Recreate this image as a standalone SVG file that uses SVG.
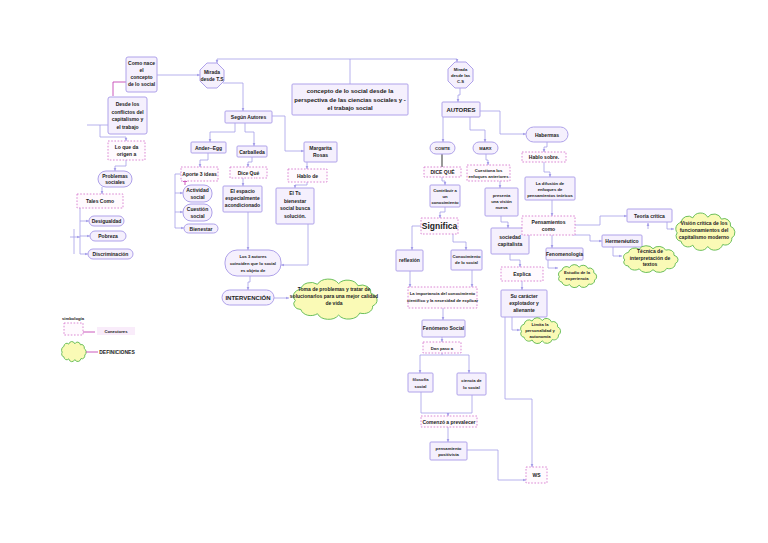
<svg xmlns="http://www.w3.org/2000/svg" width="768" height="543" viewBox="0 0 768 543">
<style>
.n{fill:#f5f0fd;stroke:#afa2ea;stroke-width:1}
.d{fill:#fffafe;stroke:#d77ccf;stroke-width:0.9;stroke-dasharray:1.6,1.6}
.cl{fill:#fafab6;stroke:#6cc05c}
.c{fill:none;stroke:#a59ee8;stroke-width:0.8;marker-end:url(#ar)}
.p{fill:none;stroke:#c545b5;stroke-width:0.9}
text{font-family:"Liberation Sans",Arial,sans-serif;font-size:5px;font-weight:bold;fill:#222;text-anchor:middle}
.s{font-size:4.2px}
.m{font-size:6px}
.l{font-size:8.5px}
</style>
<defs>
<marker id="ar" viewBox="0 0 6 6" refX="5.5" refY="3" markerWidth="4" markerHeight="4" orient="auto"><path d="M0,0.5 L6,3 L0,5.5 Z" fill="#a59ee8"/></marker>
<symbol id="cloud" viewBox="0 0 100 60" preserveAspectRatio="none" overflow="visible">
<path vector-effect="non-scaling-stroke" d="M8,32 A10,10 0 0 1 14,16 A11,11 0 0 1 32,9 A13,13 0 0 1 55,8 A12,12 0 0 1 76,11 A10,10 0 0 1 90,22 A10,10 0 0 1 92,40 A10,10 0 0 1 78,50 A13,13 0 0 1 55,53 A13,13 0 0 1 32,51 A11,11 0 0 1 14,45 A8,8 0 0 1 8,32 Z"/>
</symbol>
</defs>
<rect width="768" height="543" fill="#fff"/>
<g id="connectors">
<path class="c" d="M157,75 H200"/>
<path class="p" d="M126,82 H113 V96"/>
<path class="c" d="M108,125 H87 M100,125 V137 H126 V141"/>
<path class="c" d="M126,160 V166 H115 V171"/>
<path class="c" d="M102,187 V194"/>
<path class="c" d="M80,208 V254 H88"/>
<path class="c" d="M80,221 H89"/>
<path class="c" d="M80,236 H90"/>
<path class="c" d="M74,229 V254 M70,237 H80"/>
<path class="c" d="M350,84 V59 H217 V63"/>
<path class="c" d="M350,59 H457 V62"/>
<path class="c" d="M223,83 H243 V111"/>
<path class="c" d="M235,123 V132 H210 V142"/>
<path class="c" d="M245,123 V132 H254 V146"/>
<path class="c" d="M272,116 H285 V151 H304"/>
<path class="c" d="M208,153 V160 H200 V167"/>
<path class="c" d="M181,174 H175 V228 H184"/>
<path class="c" d="M175,193 H183"/>
<path class="c" d="M175,212 H183"/>
<path class="p" d="M185,185 V181 M183,181.5 H187"/>
<path class="c" d="M252,157 V162 H248 V167"/>
<path class="c" d="M243,178 V186"/>
<path class="c" d="M248,212 V250"/>
<path class="c" d="M307,162 V169"/>
<path class="c" d="M307,182 V185 H295 V188"/>
<path class="c" d="M308,224 V265 H281"/>
<path class="c" d="M250,276 V282 H248 V290"/>
<path class="c" d="M274,298 H289"/>
<path class="c" d="M460,88 V95 H458 V102"/>
<path class="c" d="M443,117 V142"/>
<path class="c" d="M470,117 V130 H485 V142"/>
<path class="c" d="M480,111 H500 V134 H526"/>
<path fill="none" stroke="#555" stroke-width="1.2" d="M442,154 V167"/>
<path class="c" d="M486,154 V160 H488 V165"/>
<path class="c" d="M547,142 V147 H544 V152"/>
<path class="c" d="M442,177 V181 H445 V185"/>
<path class="c" d="M500,181 V188"/>
<path class="c" d="M544,162 V172 H550 V177"/>
<path class="c" d="M445,207 V212 H440 V218"/>
<path class="c" d="M421,226 H412 V250"/>
<path class="c" d="M453,234 V242 H466 V250"/>
<path class="c" d="M410,271 V287"/>
<path class="c" d="M472,270 V287"/>
<path class="c" d="M443,308 V320"/>
<path class="c" d="M442,337 V342"/>
<path class="c" d="M442,353 V355 M420,355 H469 M469,355 V373"/>
<path class="c" d="M420,355 V373"/>
<path class="c" d="M421,392 V413 H472 V395 M448,413 V416"/>
<path class="c" d="M448,427 V442"/>
<path class="c" d="M467,450 H498 V480 H526"/>
<path class="c" d="M501,216 V222 H508 V228"/>
<path class="c" d="M510,254 V260 H520 V267"/>
<path class="c" d="M522,281 V290"/>
<path class="c" d="M512,317 V330 H520"/>
<path class="c" d="M505,317 V399 H532 V467"/>
<path class="c" d="M552,200 V216"/>
<path class="c" d="M575,225 H600 V216 H627"/>
<path class="c" d="M648,229 V223"/>
<path class="c" d="M667,222 V229 H674"/>
<path class="c" d="M552,235 V248"/>
<path class="c" d="M573,235 H590 V241 H602"/>
<path class="c" d="M548,260 V268 H558"/>
<path class="c" d="M613,247 V256 H622"/>
</g>
<g id="como"><rect class="n" x="126" y="57" width="31" height="35" rx="2"/><text x="141.5" y="65">Como nace</text><text x="141.5" y="72">el</text><text x="141.5" y="79">concepto</text><text x="141.5" y="86">de lo social</text></g>
<g id="mirada_ts"><polygon class="n" points="207,63 217,63 224,70 224,81 217,88 207,88 200,81 200,70"/><text x="212" y="74">Mirada</text><text x="212" y="81">desde T.S</text></g>
<g id="desde"><rect class="n" x="108" y="97" width="39" height="37" rx="2"/><text x="127.5" y="106">Desde los</text><text x="127.5" y="113.5">conflictos del</text><text x="127.5" y="121">capitalismo y</text><text x="127.5" y="128.5">el trabajo</text></g>
<g id="loque"><rect class="d" x="108" y="141" width="37" height="19"/><text x="126.5" y="149">Lo que da</text><text x="126.5" y="156">origen a</text></g>
<g id="problemas"><rect class="n" x="98" y="171" width="34" height="16" rx="8"/><text x="115" y="177.5">Problemas</text><text x="115" y="184">sociales</text></g>
<g id="tales"><rect class="d" x="77" y="194" width="46" height="14"/><text x="100" y="203">Tales Como</text></g>
<g id="desigualdad"><rect class="n" x="89" y="216" width="35" height="10" rx="5"/><text x="106.5" y="223">Desigualdad</text></g>
<g id="pobreza"><rect class="n" x="90" y="231" width="36" height="10" rx="5"/><text x="108" y="238">Pobreza</text></g>
<g id="discriminacion"><rect class="n" x="88" y="249" width="45" height="10" rx="5"/><text x="110.5" y="256">Discriminación</text></g>
<g id="titulo"><rect class="n" x="292" y="84" width="116" height="31" rx="1"/><text class="m" x="350" y="93">concepto de lo social desde la</text><text class="m" x="350" y="101.5">perspectiva de las ciencias sociales y -</text><text class="m" x="350" y="110">el trabajo social</text></g>
<g id="segun"><rect class="n" x="225" y="111" width="47" height="12" rx="1"/><text x="248.5" y="119">Según Autores</text></g>
<g id="ander"><rect class="n" x="191" y="142" width="35" height="11" rx="1"/><text x="208.5" y="149.5">Ander--Egg</text></g>
<g id="carballeda"><rect class="n" x="237" y="146" width="30" height="11" rx="1"/><text x="252" y="153.5">Carballeda</text></g>
<g id="margarita"><rect class="n" x="304" y="142" width="33" height="20" rx="1"/><text x="320.5" y="150">Margarita</text><text x="320.5" y="157">Rosas</text></g>
<g id="aporte"><rect class="d" x="181" y="167" width="37" height="14"/><text x="199.5" y="176">Aporte 3 ideas</text></g>
<g id="actividad"><rect class="n" x="183" y="185" width="29" height="17" rx="8"/><text x="197.5" y="192">Actividad</text><text x="197.5" y="199">social</text></g>
<g id="cuestion"><rect class="n" x="183" y="204" width="29" height="17" rx="8"/><text x="197.5" y="211">Cuestión</text><text x="197.5" y="218">social</text></g>
<g id="bienestar"><rect class="n" x="184" y="224" width="34" height="9" rx="4.5"/><text x="201" y="230.5">Bienestar</text></g>
<g id="dicequ1"><rect class="d" x="230" y="167" width="37" height="11"/><text x="248.5" y="174.5">Dice Qué</text></g>
<g id="espacio"><rect class="n" x="223" y="186" width="39" height="26" rx="1"/><text x="242.5" y="193">El espacio</text><text x="242.5" y="200">especialmente</text><text x="242.5" y="207">acondicionado</text></g>
<g id="hablode"><rect class="d" x="288" y="169" width="39" height="13"/><text x="307.5" y="177.5">Hablo de</text></g>
<g id="elts"><rect class="n" x="276" y="188" width="38" height="36" rx="1"/><text x="295" y="195">El Ts</text><text x="295" y="202.5">bienestar</text><text x="295" y="210">social busca</text><text x="295" y="217.5">solución.</text></g>
<g id="los3"><rect class="n" x="225" y="250" width="56" height="26" rx="12"/><text class="s" x="253" y="257.5">Los 3 autores</text><text class="s" x="253" y="264.5">coinciden que lo social</text><text class="s" x="253" y="271.5">es objeto de</text></g>
<g id="intervencion"><rect class="n" x="222" y="290" width="52" height="15" rx="7.5"/><text class="m" x="248" y="299.8">INTERVENCIÓN</text></g>
<g id="cloud_toma"><use href="#cloud" class="cl" x="288" y="278" width="92" height="42"/><text x="334" y="291">Toma de problemas y tratar de</text><text x="334" y="298">solucionarlos para una mejor calidad</text><text x="334" y="305">de vida</text></g>
<g id="mirada_cs"><polygon class="n" points="455,62 466,62 473,69 473,81 466,88 455,88 448,81 448,69"/><text class="s" x="460.5" y="71">Mirada</text><text class="s" x="460.5" y="77">desde las</text><text class="s" x="460.5" y="83">C.S</text></g>
<g id="autores"><rect class="n" x="442" y="102" width="38" height="15" rx="1"/><text class="m" x="461" y="111.8">AUTORES</text></g>
<g id="comte"><rect class="n" x="430" y="142" width="25" height="12" rx="6"/><text class="s" x="442.5" y="149.6">COMTE</text></g>
<g id="marx"><rect class="n" x="473" y="142" width="25" height="12" rx="6"/><text class="s" x="485.5" y="149.6">MARX</text></g>
<g id="habermas"><rect class="n" x="526" y="127" width="42" height="15" rx="7.5"/><text x="547" y="136.5">Habermas</text></g>
<g id="dicequ2"><rect class="d" x="424" y="167" width="37" height="10"/><text x="442.5" y="174">DICE QUÉ</text></g>
<g id="cuestiona"><rect class="d" x="467" y="165" width="43" height="16"/><text class="s" x="488.5" y="172">Cuestiona los</text><text class="s" x="488.5" y="178">enfoques anteriores</text></g>
<g id="hablosobre"><rect class="d" x="522" y="152" width="44" height="10"/><text x="544" y="159">Hablo sobre.</text></g>
<g id="difusion"><rect class="n" x="525" y="177" width="50" height="23" rx="1"/><text class="s" x="550" y="184.5">La difusión de</text><text class="s" x="550" y="190.5">enfoques de</text><text class="s" x="550" y="196.5">pensamientos teóricos</text></g>
<g id="contribuir"><rect class="n" x="430" y="185" width="30" height="22" rx="1"/><text class="s" x="445" y="191.5">Contribuir a</text><text class="s" x="445" y="197.5">un</text><text class="s" x="445" y="203.5">conocimiento</text></g>
<g id="presenta"><rect class="n" x="485" y="188" width="33" height="28" rx="1"/><text class="s" x="501.5" y="197">presenta</text><text class="s" x="501.5" y="203">una visión</text><text class="s" x="501.5" y="209">nueva</text></g>
<g id="significa"><rect class="d" x="421" y="218" width="37" height="16"/><text class="l" x="439.5" y="229">Significa</text></g>
<g id="reflexion"><rect class="n" x="396" y="250" width="27" height="21" rx="1"/><text x="409.5" y="262">reflexión</text></g>
<g id="conocimiento"><rect class="n" x="451" y="250" width="31" height="20" rx="1"/><text class="s" x="466.5" y="258">Conocimiento</text><text class="s" x="466.5" y="264">de lo social</text></g>
<g id="importancia"><rect class="d" x="408" y="287" width="69" height="21"/><text class="s" x="442.5" y="295">La importancia del conocimiento</text><text class="s" x="442.5" y="301.5">científico y la necesidad de explicar</text></g>
<g id="fenomeno"><rect class="n" x="422" y="320" width="43" height="17" rx="1"/><text x="443.5" y="330">Fenómeno Social</text></g>
<g id="danpaso"><rect class="d" x="423" y="342" width="38" height="11"/><text class="s" x="442" y="349.5">Dan paso a</text></g>
<g id="filosofia"><rect class="n" x="408" y="373" width="25" height="19" rx="1"/><text class="s" x="420.5" y="381">filosofía</text><text class="s" x="420.5" y="388">social</text></g>
<g id="ciencia"><rect class="n" x="457" y="373" width="29" height="22" rx="1"/><text class="s" x="471.5" y="382">ciencia de</text><text class="s" x="471.5" y="389">lo social</text></g>
<g id="comenzo"><rect class="d" x="421" y="416" width="56" height="11"/><text x="449" y="423.5">Comenzó a prevalecer</text></g>
<g id="pensamiento"><rect class="n" x="430" y="442" width="37" height="18" rx="1"/><text class="s" x="448.5" y="449.5">pensamiento</text><text class="s" x="448.5" y="456">positivista</text></g>
<g id="ws"><rect class="d" x="526" y="467" width="21" height="16"/><text x="536.5" y="477">WS</text></g>
<g id="sociedad"><rect class="n" x="491" y="228" width="38" height="26" rx="1"/><text x="510" y="238.5">sociedad</text><text x="510" y="246">capitalista</text></g>
<g id="explica"><rect class="d" x="501" y="267" width="42" height="14"/><text x="522" y="276">Explica</text></g>
<g id="sucaracter"><rect class="n" x="501" y="290" width="46" height="27" rx="1"/><text x="524" y="298">Su carácter</text><text x="524" y="305">explotador y</text><text x="524" y="312">alienante</text></g>
<g id="cloud_limita"><use href="#cloud" class="cl" x="518" y="317" width="44" height="27"/><text class="s" x="540" y="326">Limita la</text><text class="s" x="540" y="332">personalidad y</text><text class="s" x="540" y="338">autonomía</text></g>
<g id="pensamientos"><rect class="d" x="522" y="216" width="53" height="19"/><text x="548.5" y="224">Pensamientos</text><text x="548.5" y="231">como</text></g>
<g id="teoria"><rect class="n" x="627" y="209" width="45" height="13" rx="1"/><text x="649.5" y="217.5">Teoría crítica</text></g>
<g id="cloud_vision"><use href="#cloud" class="cl" x="672" y="212" width="65" height="39"/><text x="704" y="225">Visión crítica de los</text><text x="704" y="232">funcionamientos del</text><text x="704" y="239">capitalismo moderno</text></g>
<g id="fenomenologia"><rect class="n" x="546" y="248" width="37" height="12" rx="1"/><text x="564.5" y="256">Fenomenología</text></g>
<g id="hermeneutico"><rect class="n" x="602" y="235" width="40" height="12" rx="1"/><text x="622" y="243">Hermenéutico</text></g>
<g id="cloud_tecnica"><use href="#cloud" class="cl" x="620" y="245" width="60" height="28"/><text x="650" y="253">Técnica de</text><text x="650" y="259.5">interpretación de</text><text x="650" y="266">textos</text></g>
<g id="cloud_estudio"><use href="#cloud" class="cl" x="556" y="264" width="42" height="24"/><text class="s" x="577" y="274">Estudio de la</text><text class="s" x="577" y="280">experiencia</text></g>
<g id="legend">
<text class="s" x="73" y="320">simbología</text>
<rect class="d" x="64" y="323" width="19" height="12"/>
<path class="p" d="M83,332 H95"/>
<rect x="97" y="327" width="38" height="8" fill="#f9ecfa"/>
<text class="s" x="116" y="332.5">Conectores</text>
<use href="#cloud" class="cl" x="60" y="341" width="27" height="21"/>
<path class="p" d="M86,352 H98"/>
<text x="117" y="354">DEFINICIONES</text>
</g>
</svg>
